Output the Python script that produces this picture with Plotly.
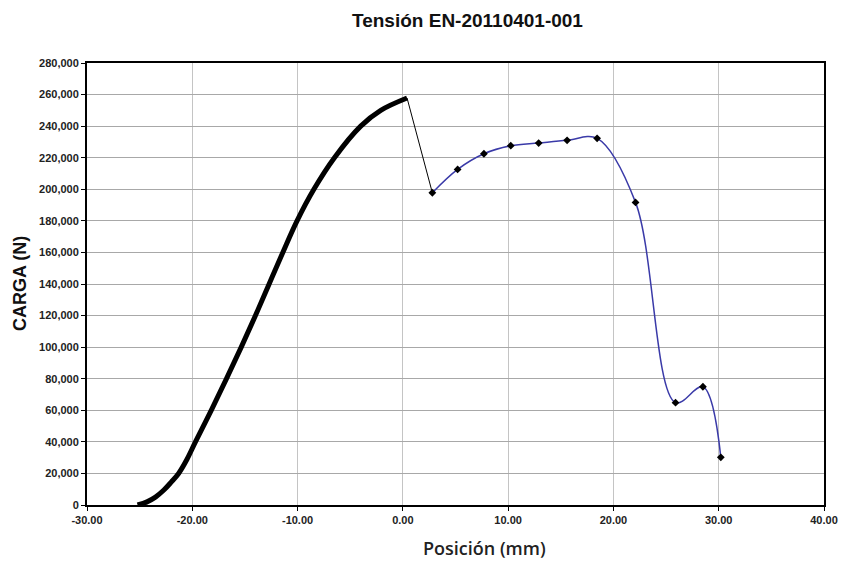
import plotly.graph_objects as go

# thick curve: load vs position up to the peak
pos_loading = [-25.2, -24.3, -23.5, -22.7, -22.0, -21.3, -20.5, -19.7, -18.2, -16.75,
               -15.35, -14.0, -12.7, -11.4, -10.05, -8.45, -6.5, -4.0, -2.1, 0.4]
load_loading = [0, 2000, 5000, 9500, 14500, 20000, 29000, 40000, 60000, 80000,
                100000, 120000, 140000, 160000, 180000, 200000, 220000, 240000, 250000, 257800]

# thin black drop right after the peak
pos_drop = [0.4, 2.8]
load_drop = [257800, 197800]

# smoothed blue series with markers
pos_points = [2.8, 5.2, 7.7, 10.25, 12.9, 15.6, 18.45, 22.1, 25.9, 28.5, 30.2]
load_points = [197800, 212600, 222500, 227600, 229300, 231000, 232300, 191700, 64800, 74900, 30200]

x_ticks = [-30, -20, -10, 0, 10, 20, 30, 40]
y_ticks = list(range(0, 280001, 20000))

tick_font = dict(family="Liberation Sans, Arial", size=11, color="#222222", weight="bold")

fig = go.Figure()
fig.add_trace(go.Scatter(x=pos_loading, y=load_loading, mode="lines",
                         line=dict(color="black", width=5, shape="spline", smoothing=1.0)))
fig.add_trace(go.Scatter(x=pos_drop, y=load_drop, mode="lines",
                         line=dict(color="black", width=1)))
fig.add_trace(go.Scatter(x=pos_points, y=load_points, mode="lines",
                         line=dict(color="#3a3aa8", width=1.5, shape="spline", smoothing=1.0)))
fig.add_trace(go.Scatter(x=pos_points, y=load_points, mode="markers",
                         marker=dict(symbol="diamond", size=6, color="black")))

fig.update_layout(
    width=843, height=563,
    margin=dict(l=87, r=19, t=63, b=58),
    paper_bgcolor="white", plot_bgcolor="white",
    showlegend=False,
    xaxis=dict(range=[-30, 40], tickvals=x_ticks, automargin=False,
               ticktext=[f"{v:.2f}" for v in x_ticks],
               showgrid=True, gridcolor="#c4c4c4", gridwidth=1,
               showline=True, linecolor="black", linewidth=2, mirror=True,
               ticks="outside", ticklen=4, tickcolor="black",
               tickfont=tick_font, zeroline=False),
    yaxis=dict(range=[0, 280000], tickvals=y_ticks, automargin=False,
               ticktext=[f"{v:,}" for v in y_ticks],
               showgrid=True, gridcolor="#a8a8a8", gridwidth=1,
               showline=True, linecolor="black", linewidth=2, mirror=True,
               ticks="outside", ticklen=4, tickcolor="black",
               tickfont=tick_font, zeroline=False),
    annotations=[
        dict(text="<b>Tensión EN-20110401-001</b>", xref="paper", yref="paper",
             x=0.516, y=1.0, yshift=43, yanchor="middle", showarrow=False,
             font=dict(family="Liberation Sans, Arial", size=19, color="#111111")),
        dict(text="Posición (mm)", xref="paper", yref="paper",
             x=0.54, y=0, yshift=-43, yanchor="middle", showarrow=False,
             font=dict(family="Open Sans", size=18, color="#222222", weight=600)),
        dict(text="<b>CARGA (N)</b>", xref="paper", yref="paper",
             x=0, xshift=-67, xanchor="center", y=0.5, yanchor="middle",
             showarrow=False, textangle=-90,
             font=dict(family="Liberation Sans, Arial", size=18, color="#111111")),
    ],
)

# drop the default page margin so the figure fills the window, no modebar
fig.write_html("out.html", config={"displayModeBar": False},
               post_script="document.body.style.margin='0';")
